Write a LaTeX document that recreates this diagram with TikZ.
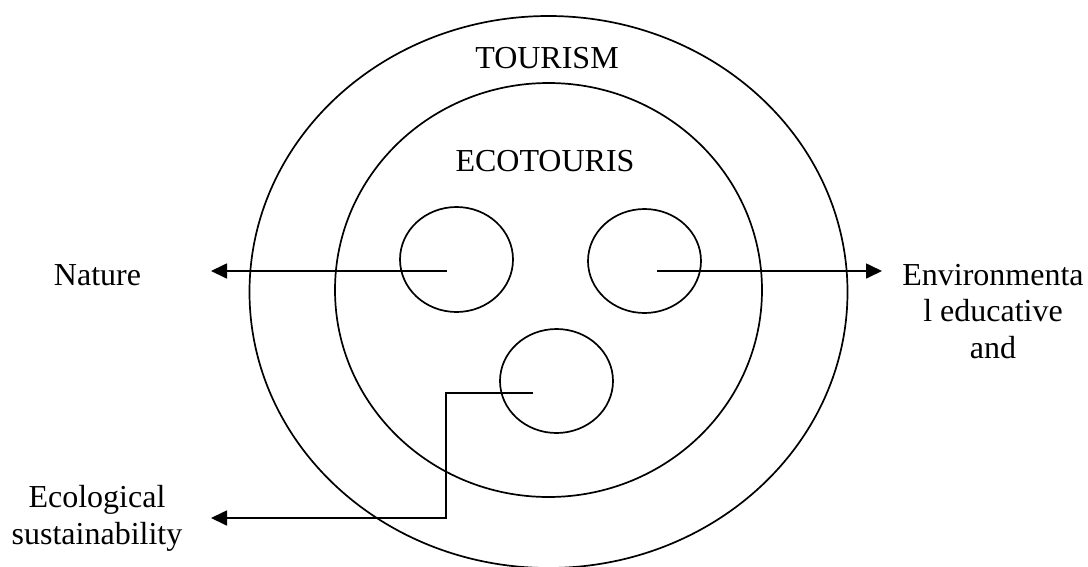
\documentclass[tikz,border=0pt]{standalone}
\usepackage{fontspec}
\setmainfont{Liberation Serif}
\usetikzlibrary{shapes.geometric,arrows.meta}
\begin{document}
\begin{tikzpicture}[x=1pt,y=-1pt,
  ring/.style={draw,ellipse,line width=1.7pt,inner sep=0pt},
  conn/.style={line width=1.7pt,-{Triangle[length=16pt,width=15pt]}},
  lbl/.style={font=\fontsize{32}{36.5}\selectfont,inner sep=0pt,align=center,anchor=base}]
\useasboundingbox (0,0) rectangle (1088,566);
\clip (0,0) rectangle (1088,566);
\node[ring,minimum width=598pt,minimum height=552pt] (outer) at (548.5,292) {};
\node[ring,minimum width=427pt,minimum height=414pt] (inner) at (548.5,290) {};
\node[ring,minimum width=113pt,minimum height=105pt] (cl) at (456.5,259.5) {};
\node[ring,minimum width=113pt,minimum height=104pt] (cr) at (644.5,261) {};
\node[ring,minimum width=113pt,minimum height=104pt] (cb) at (556.5,381) {};
\node[lbl] (tourism) at (547,68) {TOURISM};
\node[lbl] (eco) at (545,171) {ECOTOURIS};
\node[lbl] (nature) at (97.5,285) {Nature};
\node[lbl] (env) at (993,358) {Environmenta\\l educative\\and};
\node[lbl] (ecol) at (97,544) {Ecological\\sustainability};
\coordinate (sl) at (447,271);
\coordinate (tl) at (211,271);
\coordinate (sr) at (657,271);
\coordinate (tr) at (882,271);
\coordinate (sb) at (533,393);
\coordinate (bend1) at (446,393);
\coordinate (bend2) at (446,518);
\coordinate (tb) at (211,518);
\draw[conn] (sl) -- (tl);
\draw[conn] (sr) -- (tr);
\draw[conn,line join=miter] (sb) -- (bend1) -- (bend2) -- (tb);
\end{tikzpicture}
\end{document}
